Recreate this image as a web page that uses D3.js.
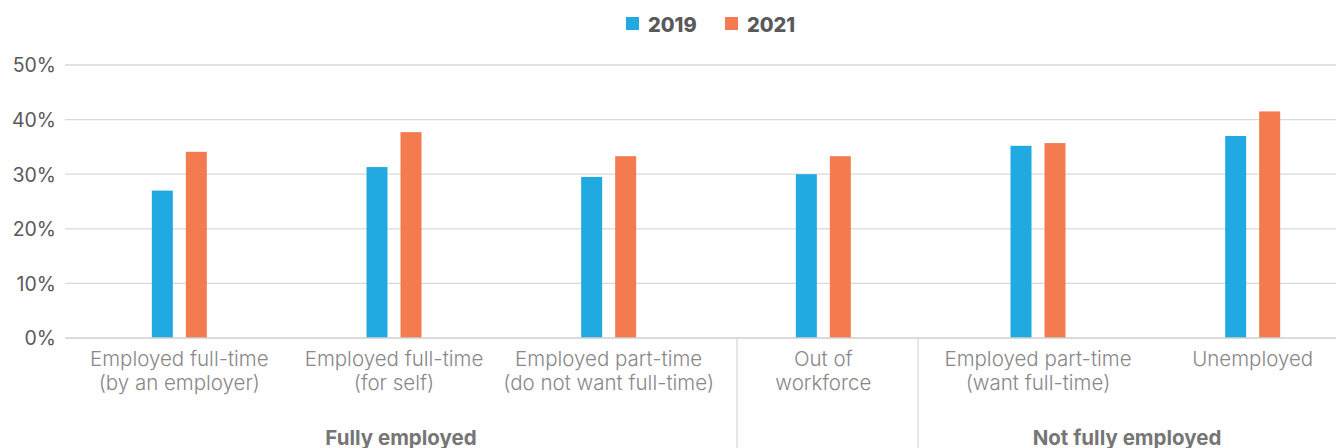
<!DOCTYPE html>
<html>
<head>
<meta charset="utf-8">
<script src="https://cdn.jsdelivr.net/npm/d3@7"></script>
<style>
  html, body { margin: 0; padding: 0; background: #fff; }
  svg { display: block; font-family: Inter, "Open Sans", "Liberation Sans", sans-serif; }
</style>
</head>
<body>
<svg id="chart" width="1336" height="448"></svg>
<script>
// Employment status categories (two-line labels)
const categories = [
  "Employed full-time|(by an employer)",
  "Employed full-time|(for self)",
  "Employed part-time|(do not want full-time)",
  "Out of|workforce",
  "Employed part-time|(want full-time)",
  "Unemployed"
];
const seriesNames = ["2019", "2021"];
const values2019 = [27.0, 31.3, 29.5, 30.0, 35.2, 37.0];
const values2021 = [34.1, 37.7, 33.3, 33.3, 35.7, 41.5];
const yTicks = [0, 10, 20, 30, 40, 50];
// Outer grouping of the category axis
const groups = [
  { label: "Fully employed", from: 0, to: 2 },
  { label: "Out of workforce", from: 3, to: 3, hidden: true },
  { label: "Not fully employed", from: 4, to: 5 }
];

const colors = { "2019": "#21A9E1", "2021": "#F47B4F" };

const svg = d3.select("#chart");
const plotLeft = 65, plotRight = 1336, plotTop = 65, plotBottom = 338;

const x = d3.scaleBand().domain(categories).range([72, 1360]).paddingInner(0);
const y = d3.scaleLinear().domain([0, 50]).range([plotBottom, plotTop]);

// Horizontal gridlines
svg.append("g").selectAll("line")
  .data(yTicks.filter(t => t > 0))
  .join("line")
  .attr("x1", plotLeft).attr("x2", plotRight)
  .attr("y1", d => y(d)).attr("y2", d => y(d))
  .attr("stroke", "#d9d9d9").attr("stroke-width", 1.3);

// Y axis labels
const yAxis = d3.axisLeft(y).tickValues(yTicks).tickFormat(d => d + "%").tickSize(0).tickPadding(0);
const yg = svg.append("g").attr("transform", "translate(56,0)").call(yAxis);
yg.select(".domain").remove();
yg.selectAll("text")
  .attr("fill", "#595959")
  .attr("font-size", 19.5)
  .attr("font-family", "Inter, 'Open Sans', sans-serif")
  .attr("dy", "0.35em");

// Bars
const barW = 21, gap = 13;
const rows = categories.map((c, i) => ({ c, v: [values2019[i], values2021[i]] }));
const barG = svg.append("g");
rows.forEach(r => {
  const cx = x(r.c) + x.bandwidth() / 2;
  seriesNames.forEach((s, j) => {
    const v = r.v[j];
    barG.append("rect")
      .attr("x", j === 0 ? cx - gap / 2 - barW : cx + gap / 2)
      .attr("y", y(v))
      .attr("width", barW)
      .attr("height", y(0) - y(v))
      .attr("fill", colors[s]);
  });
});

// Baseline
svg.append("line")
  .attr("x1", plotLeft).attr("x2", plotRight)
  .attr("y1", y(0)).attr("y2", y(0))
  .attr("stroke", "#cfcfcf").attr("stroke-width", 1.3);

// Group separators on the category axis
const separators = [737, 918];
svg.append("g").selectAll("line")
  .data(separators)
  .join("line")
  .attr("x1", d => d).attr("x2", d => d)
  .attr("y1", y(0)).attr("y2", 448)
  .attr("stroke", "#d9d9d9").attr("stroke-width", 1.3);

// Category labels
const catG = svg.append("g");
categories.forEach(c => {
  const cx = x(c) + x.bandwidth() / 2;
  const lines = c.split("|");
  const t = catG.append("text")
    .attr("text-anchor", "middle")
    .attr("fill", "#888888")
    .attr("font-size", 20.5)
    .attr("font-weight", 300);
  lines.forEach((ln, k) => {
    t.append("tspan").attr("x", cx).attr("y", 365.5 + k * 24).text(ln);
  });
});

// Group labels
const bounds = [plotLeft, ...separators, plotRight];
groups.filter(g => !g.hidden).forEach(g => {
  const idx = groups.indexOf(g);
  const cx = (bounds[idx] + bounds[idx + 1]) / 2;
  svg.append("text")
    .attr("x", cx).attr("y", 444.5)
    .attr("text-anchor", "middle")
    .attr("fill", "#767676")
    .attr("font-size", 20.5)
    .attr("font-weight", 700)
    .text(g.label);
});

// Legend
const legend = svg.append("g");
const legendX = [626, 725];
seriesNames.forEach((s, i) => {
  legend.append("rect")
    .attr("x", legendX[i]).attr("y", 17)
    .attr("width", 13).attr("height", 13)
    .attr("fill", colors[s]);
  legend.append("text")
    .attr("x", legendX[i] + 22).attr("y", 31.5)
    .attr("fill", "#595959")
    .attr("font-size", 20)
    .attr("font-weight", 800)
    .text(s);
});
</script>
</body>
</html>
